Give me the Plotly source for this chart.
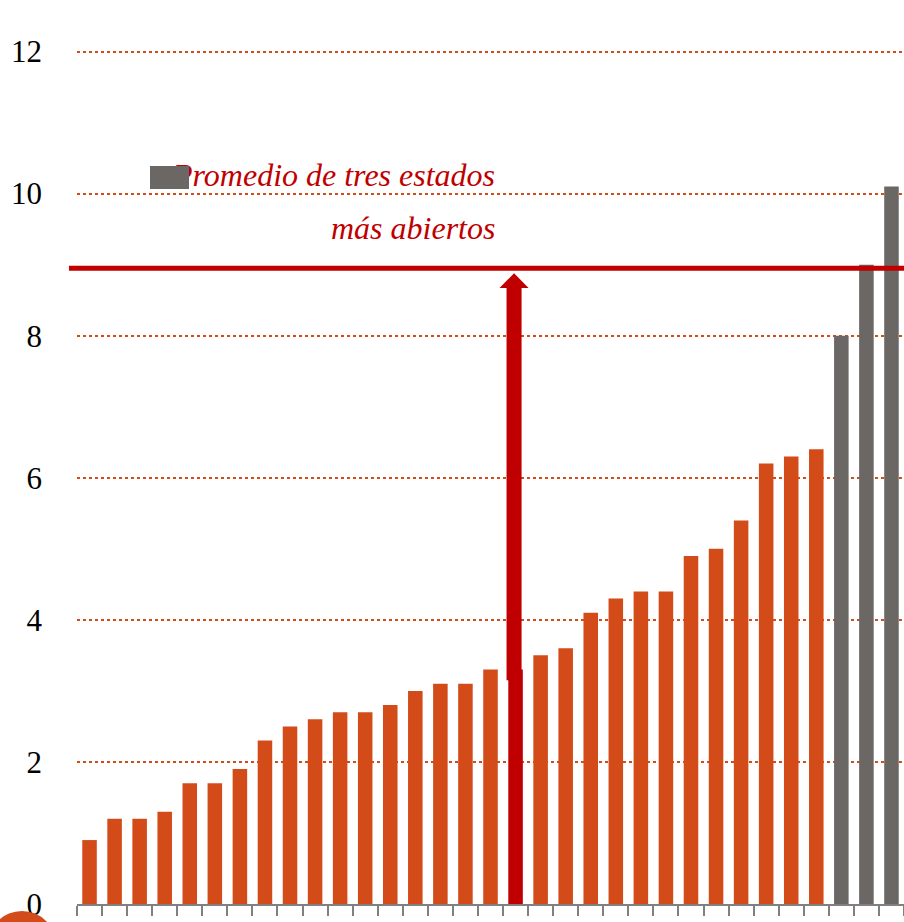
import plotly.graph_objects as go

# ---- data ----
positions = list(range(33))
values = [0.9, 1.2, 1.2, 1.3, 1.7, 1.7, 1.9, 2.3, 2.5, 2.6, 2.7, 2.7, 2.8, 3.0, 3.1, 3.1,
          3.3, 3.3, 3.5, 3.6, 4.1, 4.3, 4.4, 4.4, 4.9, 5.0, 5.4, 6.2, 6.3, 6.4,
          8.0, 9.0, 10.1]
groups = (["resto"] * 17 + ["destacado"] + ["resto"] * 12 + ["abiertos"] * 3)
y_ticks = [0, 2, 4, 6, 8, 10, 12]
average_open = 8.95          # "Promedio de tres estados más abiertos"
arrow_start = 3.15
arrow_tip = 8.88
highlight_index = 17
label_line1 = "Promedio de tres estados"
label_line2 = "más abiertos"

ORANGE = "#d44b1a"
RED = "#c00000"
GRAY = "#6b6765"
color_map = {"resto": ORANGE, "destacado": RED, "abiertos": GRAY}
colors = [color_map[g] for g in groups]

fig = go.Figure()
fig.add_trace(go.Bar(x=positions, y=values, marker=dict(color=colors, line=dict(width=0)),
                     width=0.58, showlegend=False, hoverinfo="skip"))

# white patch behind the label (interrupts the 10 gridline)
fig.add_shape(type="rect", xref="paper", yref="y", x0=0.0302, x1=0.533, y0=9.7, y1=10.45,
              fillcolor="white", line=dict(width=0), layer="between")

# average line
fig.add_shape(type="line", xref="paper", yref="y", x0=-0.0097, x1=1,
              y0=average_open, y1=average_open, line=dict(color=RED, width=5), layer="above")

# arrow shaft and head
hx = highlight_index - 0.06
fig.add_shape(type="rect", xref="x", yref="y", x0=hx - 0.3, x1=hx + 0.3,
              y0=arrow_start, y1=arrow_tip - 0.2, fillcolor=RED, line=dict(width=0), layer="above")
fig.add_shape(type="path", xref="x", yref="y",
              path=f"M {hx-0.58},{arrow_tip-0.21} L {hx+0.58},{arrow_tip-0.21} L {hx},{arrow_tip} Z",
              fillcolor=RED, line=dict(width=0), layer="above")

# decorative circle at bottom-left
fig.add_shape(type="circle", xref="paper", yref="paper", x0=-0.1076, x1=-0.0254,
              y0=-0.0843, y1=-0.0079, fillcolor=ORANGE, line=dict(width=0), layer="above")

font_it = dict(family="Liberation Serif", size=32, color=RED)
fig.add_annotation(xref="paper", yref="y", x=0.5079, y=10.26, xanchor="right", yanchor="middle",
                   text=f"<i>{label_line1}</i>", showarrow=False, font=font_it)
fig.add_annotation(xref="paper", yref="y", x=0.5079, y=9.51, xanchor="right", yanchor="middle",
                   text=f"<i>{label_line2}</i>", showarrow=False, font=font_it)
# gray legend-like square over the start of the label
fig.add_annotation(xref="paper", yref="y", x=0.1118, y=10.22, xanchor="center", yanchor="middle",
                   text=" ", showarrow=False, width=39, height=23, bgcolor=GRAY,
                   borderpad=0, borderwidth=0, font=dict(size=4))

fig.update_layout(
    width=904, height=922,
    margin=dict(l=77, r=0, t=16, b=16),
    paper_bgcolor="white", plot_bgcolor="white",
    bargap=0.4,
    xaxis=dict(range=[-0.5, 32.5], tickmode="linear", tick0=-0.5, dtick=1,
               showticklabels=False, ticks="outside", ticklen=10, tickwidth=2, tickcolor="#808080",
               showline=True, linecolor="#808080", linewidth=2, showgrid=False, zeroline=False,
               fixedrange=True),
    yaxis=dict(range=[0, 12.5], tickvals=y_ticks, ticktext=[str(v) for v in y_ticks],
               tickfont=dict(family="Liberation Serif", size=31, color="black"),
               ticklabelstandoff=34, ticklabeloverflow="allow",
               showgrid=True, gridcolor=ORANGE, griddash="dot", gridwidth=1.5,
               zeroline=False, showline=False, ticks=""),
)

fig.write_html("out.html", config={"displayModeBar": False},
               post_script="document.body.style.margin='0';document.body.style.overflow='hidden';")
